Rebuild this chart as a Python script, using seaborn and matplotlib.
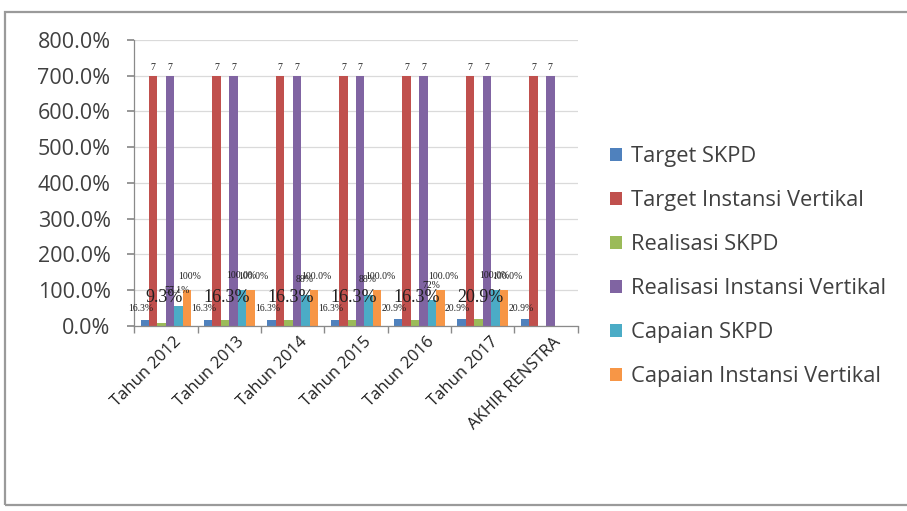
"""Clustered bar chart: target / realisasi / capaian per tahun (Excel-style)."""

import matplotlib.pyplot as plt
import pandas as pd
import seaborn as sns
from matplotlib.patches import Rectangle
from matplotlib.ticker import FuncFormatter, MultipleLocator
from matplotlib.transforms import ScaledTranslation

CATEGORIES = ["Tahun 2012", "Tahun 2013", "Tahun 2014", "Tahun 2015",
              "Tahun 2016", "Tahun 2017", "AKHIR RENSTRA"]
SERIES = ["Target SKPD", "Target Instansi Vertikal", "Realisasi SKPD",
          "Realisasi Instansi Vertikal", "Capaian SKPD", "Capaian Instansi Vertikal"]

# values in percent; None = no bar
TARGET_SKPD = [16.3, 16.3, 16.3, 16.3, 20.9, 20.9, 20.9]
TARGET_IV = [700, 700, 700, 700, 700, 700, 700]
REALISASI_SKPD = [9.3, 16.3, 16.3, 16.3, 16.3, 20.9, None]
REALISASI_IV = [700, 700, 700, 700, 700, 700, 700]
CAPAIAN_SKPD = [57.1, 100.0, 88.0, 88.0, 72.0, 100.0, None]
CAPAIAN_IV = [100, 100, 100, 100, 100, 100, None]

# data label texts as printed on the chart
LBL_TARGET_SKPD = ["16.3%", "16.3%", "16.3%", "16.3%", "20.9%", "20.9%", "20.9%"]
LBL_TARGET_IV = ["7"] * 7
LBL_REALISASI_SKPD = ["9.3%", "16.3%", "16.3%", "16.3%", "16.3%", "20.9%", None]
LBL_REALISASI_IV = ["7"] * 7
LBL_CAPAIAN_SKPD = ["57.1%", "100.0%", "88%", "88%", "72%", "100.0%", None]
LBL_CAPAIAN_IV = ["100%", "100.0%", "100.0%", "100.0%", "100.0%", "100.0%", None]

COLORS = ["#4F81BD", "#C0504D", "#9BBB59", "#8064A2", "#4BACC6", "#F79646"]

VALUES = [TARGET_SKPD, TARGET_IV, REALISASI_SKPD, REALISASI_IV, CAPAIAN_SKPD, CAPAIAN_IV]
LABELS = [LBL_TARGET_SKPD, LBL_TARGET_IV, LBL_REALISASI_SKPD, LBL_REALISASI_IV,
          LBL_CAPAIAN_SKPD, LBL_CAPAIAN_IV]
# (font size, x offset px, y offset px, anchored at bar top or at baseline)
LABEL_STYLE = [(7, -4, 18, "base"), (7, 0, 8, "top"), (13, 2, 29, "base"),
               (7, 0, 8, "top"), (7, -1, 15, "top"), (7, 3, 14, "top")]

rows = []
for name, vals in zip(SERIES, VALUES):
    for cat, v in zip(CATEGORIES, vals):
        rows.append({"Kategori": cat, "Seri": name, "Nilai": v if v is not None else 0.0})
df = pd.DataFrame(rows)

sns.set_theme(style="white")
plt.rcParams["font.family"] = ["Open Sans", "DejaVu Sans"]

fig = plt.figure(figsize=(9.07, 5.11), dpi=100)
ax = fig.add_axes([0.148, 0.362, 0.489, 0.560])

sns.barplot(data=df, x="Kategori", y="Nilai", hue="Seri", hue_order=SERIES,
            order=CATEGORIES, palette=COLORS, width=0.8, saturation=1,
            edgecolor="none", ax=ax, legend=True)

ax.set_ylim(0, 800)
ax.set_xlim(-0.5, len(CATEGORIES) - 0.5)
ax.yaxis.set_major_locator(MultipleLocator(100))
ax.yaxis.set_major_formatter(FuncFormatter(lambda v, _: f"{v:.1f}%"))
ax.grid(axis="y", color="#dadada", lw=0.9)
ax.set_axisbelow(True)
for side in ["top", "right"]:
    ax.spines[side].set_visible(False)
for side in ["left", "bottom"]:
    ax.spines[side].set_color("#8a8a8a")
    ax.spines[side].set_linewidth(0.9)
ax.set_xlabel("")
ax.set_ylabel("")
ax.tick_params(axis="y", left=True, length=5, color="#8a8a8a", labelsize=15.5,
               labelcolor="#404040", pad=12)
ax.tick_params(axis="x", bottom=False, labelsize=12, labelcolor="#202020")
# Excel-style tick marks between categories
ax.set_xticks([i - 0.5 for i in range(len(CATEGORIES) + 1)], minor=True)
ax.tick_params(axis="x", which="minor", bottom=True, length=5, color="#8a8a8a")
ax.set_xticks(range(len(CATEGORIES)))
ax.set_xticklabels(CATEGORIES, rotation=45, ha="right", rotation_mode="anchor")
for lbl in ax.get_xticklabels():
    lbl.set_transform(lbl.get_transform() + ScaledTranslation(0.07, 0.05, fig.dpi_scale_trans))

# data labels
for container, texts, vals, (fs, dx, dy, mode) in zip(ax.containers, LABELS, VALUES, LABEL_STYLE):
    for bar, txt, v in zip(container.patches, texts, vals):
        if txt is None or v is None:
            continue
        x = bar.get_x() + bar.get_width() / 2
        y = bar.get_height() if mode == "top" else 0
        ax.annotate(txt, (x, y), xytext=(dx * 0.72, dy * 0.72), textcoords="offset points",
                    ha="center", va="center", fontsize=fs, color="#202020",
                    family=["Liberation Serif", "DejaVu Serif"], annotation_clip=False)

handles, labels = ax.get_legend_handles_labels()
ax.legend_.remove()
fig.legend(handles, labels, loc="upper left", bbox_to_anchor=(0.651, 0.752),
           frameon=False, fontsize=15.75, labelspacing=1.05, handlelength=0.55,
           handleheight=0.55, handletextpad=0.4, labelcolor="#404040")

# outer chart border
fig.patches.append(Rectangle((0.006, 0.012), 1.2, 0.965, transform=fig.transFigure,
                             fill=False, edgecolor="#9a9a9a", lw=1.6))

fig.savefig("out.png", dpi=100)
